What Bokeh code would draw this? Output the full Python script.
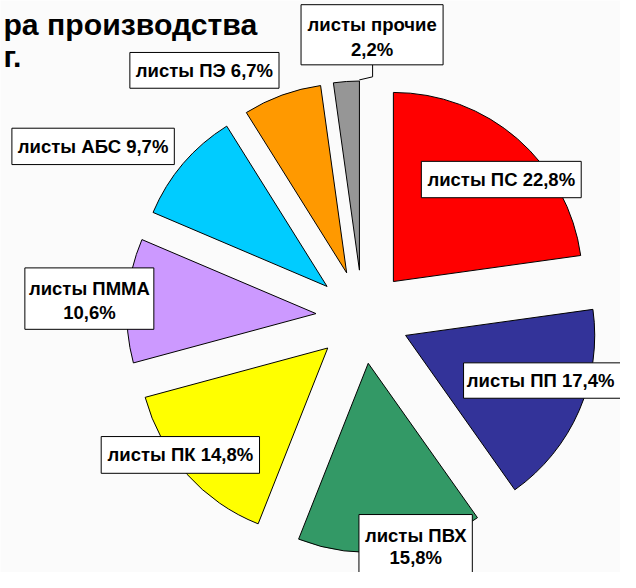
import math
from bokeh.plotting import figure
from bokeh.models import Range1d, ColumnDataSource
from bokeh.core.properties import value
from bokeh.embed import file_html
from bokeh.resources import INLINE

# ---- data ----
categories = ["листы ПС", "листы ПП", "листы ПВХ", "листы ПК",
              "листы ПММА", "листы АБС", "листы ПЭ", "листы прочие"]
shares = [22.8, 17.4, 15.8, 14.8, 10.6, 9.7, 6.7, 2.2]
colors = ["#FF0000", "#333399", "#339966", "#FFFF00",
          "#CC99FF", "#00CCFF", "#FF9900", "#969696"]
title_lines = ["ра производства", "г."]

# ---- layout (reference pixel units, y downwards) ----
W_REF, H_REF = 636, 588
FIG_W, FIG_H = 620, 572
s = FIG_W / W_REF
CX, CY = 371.5, 324.5      # pie centre
RADIUS = 194
EXPLODE = 48
# label boxes: (left, right, top, bottom), centre x, line centre ys, two-line?
label_layout = [
    ((431.7, 595.7, 165.0, 202.3), 513.7, [183.7], False),
    ((475.0, 640.0, 371.7, 408.0), 554.0, [390.0], False),
    ((367.7, 484.0, 527.3, 600.0), 426.0, [548.3, 571.7], True),
    ((103.3, 265.7, 447.3, 485.0), 184.5, [466.2], False),
    ((25.0, 157.3, 274.3, 337.3), 91.2, [295.0, 320.0], True),
    ((11.7, 178.3, 131.0, 168.3), 95.0, [149.7], False),
    ((132.7, 285.7, 53.3, 90.0), 209.2, [71.7], False),
    ((308.3, 454.0, 4.3, 66.0), 381.2, [25.0, 50.0], True),
]
leader_x = [381.7, 381.7, 368.0]
leader_y = [66.0, 78.3, 81.5]

def Y(y):
    return H_REF - y

p = figure(width=FIG_W, height=FIG_H, output_backend="svg", toolbar_location=None,
           x_range=Range1d(0, W_REF), y_range=Range1d(H_REF - FIG_H / s, H_REF),
           min_border=0)
p.axis.visible = False
p.grid.visible = False
p.outline_line_color = None
p.background_fill_color = "#fbfbfb"
p.border_fill_color = "#fbfbfb"

# ---- pie wedges (exploded) ----
total = sum(shares)
xs, ys, starts, ends = [], [], [], []
cum = 0.0
for v in shares:
    f0 = cum / total
    f1 = (cum + v) / total
    mid = (f0 + f1) / 2
    th = math.pi / 2 - 2 * math.pi * mid
    xs.append(CX + EXPLODE * math.cos(th))
    ys.append(Y(CY) + EXPLODE * math.sin(th))
    starts.append(math.pi / 2 - 2 * math.pi * f0)
    ends.append(math.pi / 2 - 2 * math.pi * f1)
    cum += v

src = ColumnDataSource(dict(x=xs, y=ys, start=starts, end=ends, color=colors))
p.wedge(x="x", y="y", radius=RADIUS, start_angle="start", end_angle="end",
        direction="clock", fill_color="color", line_color="black", line_width=1,
        source=src)

# ---- leader line ----
p.line(leader_x, [Y(y) for y in leader_y], line_color="black", line_width=1)

# ---- labels ----
font = value("Liberation Sans")
fs = f"{19 * s:.1f}px"
for cat, v, (box, cx, lys, two) in zip(categories, shares, label_layout):
    pct = f"{v:.1f}%".replace(".", ",")
    lines = [cat, pct] if two else [f"{cat} {pct}"]
    l, r, t, b = box
    p.quad(left=[l], right=[r], top=[Y(t)], bottom=[Y(b)],
           fill_color="white", line_color="black", line_width=1)
    p.text(x=[cx] * len(lines), y=[Y(yy) for yy in lys], text=lines,
           text_font=font, text_font_style="bold", text_font_size=fs,
           text_align="center", text_baseline="middle", text_color="black")

# ---- title remnants (kept fully inside the canvas) ----
tfs = f"{31 * s:.1f}px"
p.text(x=[3], y=[Y(25)], text=[title_lines[0]], text_font=font,
       text_font_style="bold", text_font_size=tfs, text_align="left",
       text_baseline="alphabetic", text_color="black")
p.text(x=[3], y=[Y(57)], text=[title_lines[1]], text_font=font,
       text_font_style="bold", text_font_size=tfs, text_align="left",
       text_baseline="alphabetic", text_color="black")

open("out.html", "w").write(file_html(p, INLINE))
